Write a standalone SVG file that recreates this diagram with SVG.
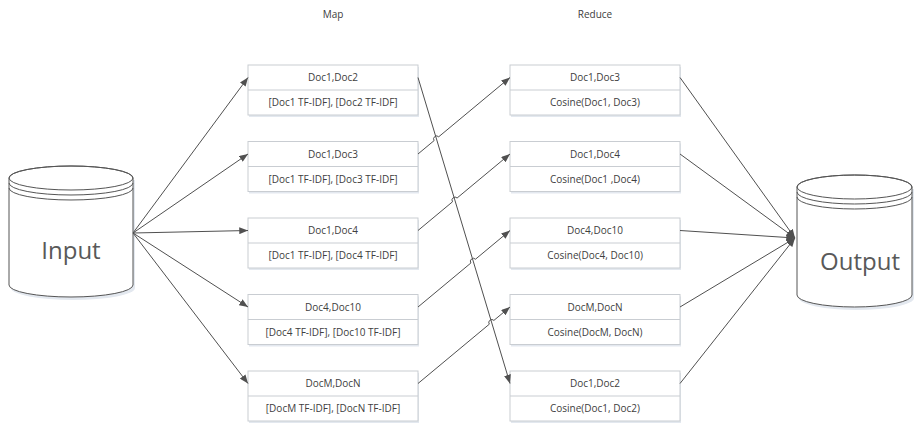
<svg xmlns="http://www.w3.org/2000/svg" width="914" height="423" viewBox="0 0 914 423">
<style>
.box{fill:#ffffff;stroke:#c9cdd2;stroke-width:1}
.shadow{fill:#e3e8ef;stroke:none}
.div{stroke:#c9cdd2;stroke-width:1}
.t{font-family:"Open Sans","Liberation Sans",sans-serif;font-size:10px;fill:#404040;text-anchor:middle}
.big{font-family:"Open Sans","Liberation Sans",sans-serif;font-size:24px;fill:#595959;text-anchor:middle}
.cyl{fill:#ffffff;stroke:#555555;stroke-width:1}
.arc{fill:none;stroke:#555555;stroke-width:1}
.c{fill:none;stroke:#505050;stroke-width:1;marker-end:url(#ah)}
</style>
<defs>
<marker id="ah" viewBox="0 0 10 8" markerWidth="9" markerHeight="7" refX="10" refY="4" orient="auto" markerUnits="userSpaceOnUse">
<path d="M0,0 L10,4 L0,8 z" fill="#505050"/>
</marker>
</defs>
<text class="t" x="333" y="18">Map</text>
<text class="t" x="595" y="18">Reduce</text>
<g id="input">
<path class="shadow" d="M11,180 L11,288 A62,12 0 0 0 135,288 L135,180 z"/>
<path class="cyl" d="M9,178 L9,285 A62,12 0 0 0 133,285 L133,178 A62,12 0 0 0 9,178 z"/>
<ellipse class="arc" cx="71" cy="178" rx="62" ry="12"/>
<path class="arc" d="M9,183 A62,12 0 0 0 133,183"/>
<path class="arc" d="M9,188 A62,12 0 0 0 133,188"/>
<text class="big" x="71" y="259">Input</text>
</g>
<g id="output">
<path class="shadow" d="M799,189 L799,298 A57.5,12 0 0 0 914,298 L914,189 z"/>
<path class="cyl" d="M797,187 L797,295 A57.5,12 0 0 0 912,295 L912,187 A57.5,12 0 0 0 797,187 z"/>
<ellipse class="arc" cx="854.5" cy="187" rx="57.5" ry="12"/>
<path class="arc" d="M797,192 A57.5,12 0 0 0 912,192"/>
<path class="arc" d="M797,197 A57.5,12 0 0 0 912,197"/>
<text class="big" x="860" y="270">Output</text>
</g>
<g id="map1">
<rect class="shadow" x="249" y="67" width="170" height="50"/>
<rect class="box" x="248" y="65" width="170" height="50"/>
<line class="div" x1="248" y1="90" x2="418" y2="90"/>
<text class="t" x="333" y="81">Doc1,Doc2</text>
<text class="t" x="333" y="106">[Doc1 TF-IDF], [Doc2 TF-IDF]</text>
</g>
<g id="map2">
<rect class="shadow" x="249" y="143.5" width="170" height="50"/>
<rect class="box" x="248" y="141.5" width="170" height="50"/>
<line class="div" x1="248" y1="166.5" x2="418" y2="166.5"/>
<text class="t" x="333" y="157.5">Doc1,Doc3</text>
<text class="t" x="333" y="182.5">[Doc1 TF-IDF], [Doc3 TF-IDF]</text>
</g>
<g id="map3">
<rect class="shadow" x="249" y="220" width="170" height="50"/>
<rect class="box" x="248" y="218" width="170" height="50"/>
<line class="div" x1="248" y1="243" x2="418" y2="243"/>
<text class="t" x="333" y="234">Doc1,Doc4</text>
<text class="t" x="333" y="259">[Doc1 TF-IDF], [Doc4 TF-IDF]</text>
</g>
<g id="map4">
<rect class="shadow" x="249" y="296.5" width="170" height="50"/>
<rect class="box" x="248" y="294.5" width="170" height="50"/>
<line class="div" x1="248" y1="319.5" x2="418" y2="319.5"/>
<text class="t" x="333" y="310.5">Doc4,Doc10</text>
<text class="t" x="333" y="335.5">[Doc4 TF-IDF], [Doc10 TF-IDF]</text>
</g>
<g id="map5">
<rect class="shadow" x="249" y="373" width="170" height="50"/>
<rect class="box" x="248" y="371" width="170" height="50"/>
<line class="div" x1="248" y1="396" x2="418" y2="396"/>
<text class="t" x="333" y="387">DocM,DocN</text>
<text class="t" x="333" y="412">[DocM TF-IDF], [DocN TF-IDF]</text>
</g>
<g id="reduce1">
<rect class="shadow" x="511" y="67" width="170" height="50"/>
<rect class="box" x="510" y="65" width="170" height="50"/>
<line class="div" x1="510" y1="90" x2="680" y2="90"/>
<text class="t" x="595" y="81">Doc1,Doc3</text>
<text class="t" x="595" y="106">Cosine(Doc1, Doc3)</text>
</g>
<g id="reduce2">
<rect class="shadow" x="511" y="143.5" width="170" height="50"/>
<rect class="box" x="510" y="141.5" width="170" height="50"/>
<line class="div" x1="510" y1="166.5" x2="680" y2="166.5"/>
<text class="t" x="595" y="157.5">Doc1,Doc4</text>
<text class="t" x="595" y="182.5">Cosine(Doc1 ,Doc4)</text>
</g>
<g id="reduce3">
<rect class="shadow" x="511" y="220" width="170" height="50"/>
<rect class="box" x="510" y="218" width="170" height="50"/>
<line class="div" x1="510" y1="243" x2="680" y2="243"/>
<text class="t" x="595" y="234">Doc4,Doc10</text>
<text class="t" x="595" y="259">Cosine(Doc4, Doc10)</text>
</g>
<g id="reduce4">
<rect class="shadow" x="511" y="296.5" width="170" height="50"/>
<rect class="box" x="510" y="294.5" width="170" height="50"/>
<line class="div" x1="510" y1="319.5" x2="680" y2="319.5"/>
<text class="t" x="595" y="310.5">DocM,DocN</text>
<text class="t" x="595" y="335.5">Cosine(DocM, DocN)</text>
</g>
<g id="reduce5">
<rect class="shadow" x="511" y="373" width="170" height="50"/>
<rect class="box" x="510" y="371" width="170" height="50"/>
<line class="div" x1="510" y1="396" x2="680" y2="396"/>
<text class="t" x="595" y="387">Doc1,Doc2</text>
<text class="t" x="595" y="412">Cosine(Doc1, Doc2)</text>
</g>
<g id="connectors">
<path class="c" d="M133,233 L248,77.5"/>
<path class="c" d="M133,233 L248,154"/>
<path class="c" d="M133,233 L248,230.5"/>
<path class="c" d="M133,233 L248,307"/>
<path class="c" d="M133,233 L248,383.5"/>
<path class="c" d="M418,77.5 L510,383.5"/>
<path class="c" d="M418,154 L434.1,140.6 A3,3 0 0 1 438.7,136.8 L510,77.5"/>
<path class="c" d="M418,230.5 L452.5,201.8 A3,3 0 0 1 457.1,198 L510,154"/>
<path class="c" d="M418,307 L470.9,263 A3,3 0 0 1 475.5,259.2 L510,230.5"/>
<path class="c" d="M418,383.5 L489.3,324.2 A3,3 0 0 1 493.9,320.4 L510,307"/>
<path class="c" d="M680,77.5 L795,238"/>
<path class="c" d="M680,154 L795,238"/>
<path class="c" d="M680,230.5 L795,238"/>
<path class="c" d="M680,307 L795,238"/>
<path class="c" d="M680,383.5 L795,238"/>
</g>
</svg>
